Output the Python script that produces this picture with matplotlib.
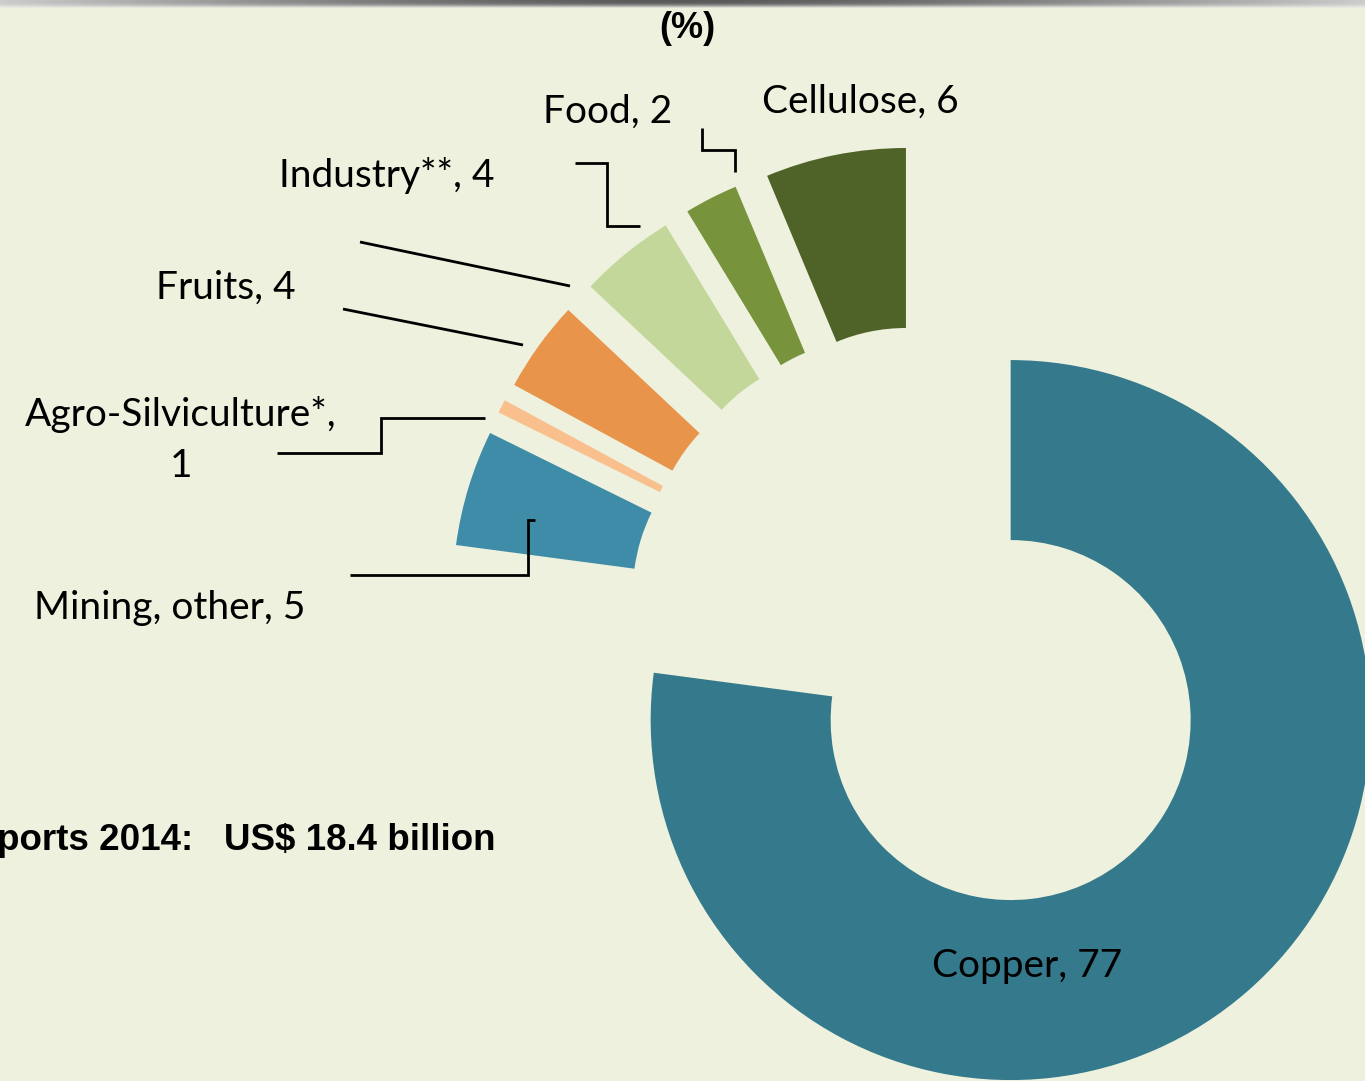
import numpy as np
import matplotlib
matplotlib.use("Agg")
import matplotlib.pyplot as plt

# ---- data (shares in %; labels show rounded values) ----
categories = ["Copper", "Mining, other", "Agro-Silviculture*", "Fruits", "Industry**", "Food", "Cellulose"]
values = [77.1, 5.2, 0.6, 4.1, 4.3, 2.4, 6.3]
label_values = [77, 5, 1, 4, 4, 2, 6]
colors = ["#347A8C", "#3E8CA7", "#F9C08E", "#E8944A", "#C4D79B", "#77933C", "#4F6228"]
label_texts = ["Copper, 77", "Mining, other, 5", "Agro-Silviculture*,\n1", "Fruits, 4",
               "Industry**, 4", "Food, 2", "Cellulose, 6"]
title_text = "(%)"
total_text = "Exports 2014:   US$ 18.4 billion"

W, H = 1365, 1081
BG = "#EEF1DE"
fig = plt.figure(figsize=(W / 100, H / 100), dpi=100, facecolor=BG)
ax = fig.add_axes([0, 0, 1, 1])
ax.set_facecolor(BG)

ax.pie(values, colors=colors, startangle=90, counterclock=False, radius=1.0,
       explode=[0.34] * len(values), wedgeprops=dict(width=0.5, linewidth=0))

# pie center / radius in pixels (layout)
cx, cy, R = 930, 628, 360
ax.set_aspect("auto")
ax.set_xlim(-cx / R, (W - cx) / R)
ax.set_ylim(-(H - cy) / R, cy / R)
ax.axis("off")


def P(x, y):
    return (x / W, 1 - y / H)


lab_font = dict(family=["Lato", "DejaVu Sans"], fontsize=28, color="black")

# leader lines (pixel layout)
leaders = [
    [(350, 575), (528, 575), (528, 520), (535, 520)],
    [(277, 453), (381, 453), (381, 418), (485, 418)],
    [(343, 309), (523, 345)],
    [(360, 242), (570, 286)],
    [(575, 163), (607, 163), (607, 226), (640, 226)],
    [(702, 128), (702, 150), (735, 150), (735, 172)],
]
for pts in leaders:
    xs = [p[0] / W for p in pts]
    ys = [1 - p[1] / H for p in pts]
    fig.add_artist(matplotlib.lines.Line2D(xs, ys, color="black", lw=2.0,
                                           solid_joinstyle="miter", solid_capstyle="butt"))

# labels
fig.text(*P(1027, 966), label_texts[0], ha="center", va="center", **lab_font)
fig.text(*P(34, 608), label_texts[1], ha="left", va="center", **lab_font)
fig.text(*P(181, 440), label_texts[2], ha="center", va="center", linespacing=1.5, **lab_font)
fig.text(*P(156, 288), label_texts[3], ha="left", va="center", **lab_font)
fig.text(*P(279, 175), label_texts[4], ha="left", va="center", **lab_font)
fig.text(*P(543, 112), label_texts[5], ha="left", va="center", **lab_font)
fig.text(*P(762, 102), label_texts[6], ha="left", va="center", **lab_font)

fig.text(*P(687, 28), title_text, ha="center", va="center",
         family="Liberation Sans", fontweight="bold", fontsize=26)
fig.text(*P(495, 840), total_text, ha="right", va="center",
         family="Liberation Sans", fontweight="bold", fontsize=26.5)

# top gray shaded border
bh = 9
gax = fig.add_axes([0, 1 - bh / H, 1, bh / H])
gax.axis("off")
xx = np.linspace(-1, 1, W)
yy = np.linspace(0, 1, bh)
horiz = 0.35 + 0.45 * np.abs(xx) ** 1.5
vert = np.clip(1 - yy ** 3, 0, 1)
bgc = np.array(matplotlib.colors.to_rgb(BG))
img = np.zeros((bh, W, 3))
for i in range(bh):
    g = horiz * vert[i] + (1 - vert[i]) * 0.9
    mix = vert[i]
    img[i] = (g[:, None] * np.ones(3)) * mix + bgc * (1 - mix)
gax.imshow(img, aspect="auto", extent=[0, 1, 0, 1])

fig.savefig("out.png", dpi=100, facecolor=BG)
